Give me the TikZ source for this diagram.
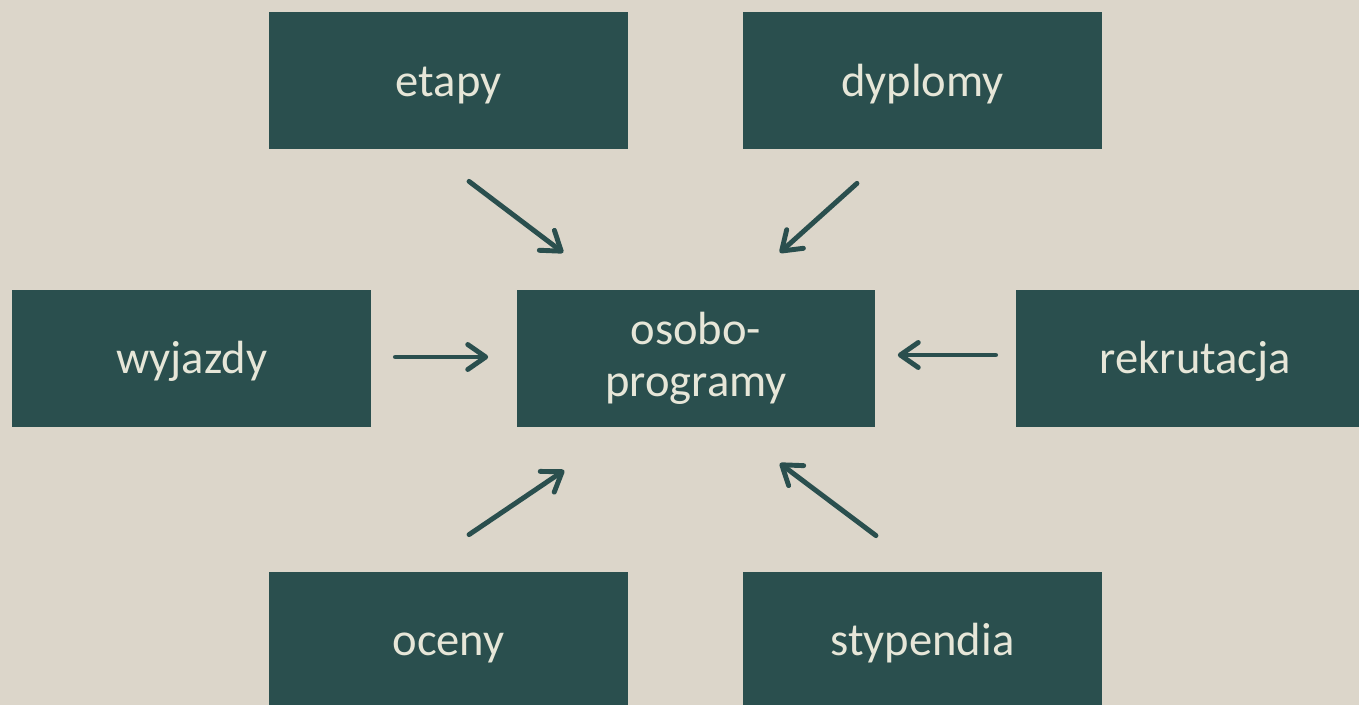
\documentclass[tikz,border=0pt]{standalone}
\usepackage{fontspec}
\setmainfont{Carlito}
\usepackage{xcolor}
\usetikzlibrary{positioning}
\usetikzlibrary{arrows.meta}
\definecolor{slidebg}{HTML}{DCD6CA}
\definecolor{boxteal}{HTML}{2A4F4E}
\definecolor{boxtext}{HTML}{E6E6D8}

\begin{document}
\begin{tikzpicture}[x=0.02cm,y=-0.02cm,on grid,
    box/.style={fill=boxteal,text=boxtext,minimum width=7.18cm,minimum height=2.74cm,
      inner sep=0pt,align=center,font=\fontsize{26.5}{29.5}\selectfont},
    oneline/.style={box,text height=0.62cm,text depth=0pt},
    feed/.style={draw=boxteal,line width=2.8pt,line cap=round,
      -{Straight Barb[length=0.36cm,width=0.5cm,line cap=round,line join=round]}}]
  \useasboundingbox (0,0) rectangle (1359,705);
  \clip (0,0) rectangle (1359,705);
  \fill[slidebg] (0,0) rectangle (1359,705);
  \node[box] (prog) at (696,358.5) {osobo-\\programy};
  \node[oneline] (etapy) [above left=5.56cm and 4.95cm of prog] {etapy};
  \node[oneline] (dypl) [above right=5.56cm and 4.53cm of prog] {dyplomy};
  \node[oneline] (wyj) [left=10.09cm of prog] {wyjazdy};
  \node[oneline] (rek) [right=9.99cm of prog] {rekrutacja};
  \node[oneline] (oceny) [below left=5.64cm and 4.95cm of prog] {oceny};
  \node[oneline] (styp) [below right=5.64cm and 4.53cm of prog] {stypendia};
  \draw[feed] ([shift={(20.5,32)}]etapy.south) -- ([shift={(47,-37)}]prog.north west);
  \draw[feed] ([shift={(-65.5,34)}]dypl.south) -- ([shift={(-96,-37)}]prog.north east);
  \draw[feed] ([shift={(24,-1.5)}]wyj.east) -- ([shift={(-28,-1.5)}]prog.west);
  \draw[feed] ([shift={(-20,-3.5)}]rek.west) -- ([shift={(22,-3.5)}]prog.east);
  \draw[feed] ([shift={(20.5,-37)}]oceny.north) -- ([shift={(48,43)}]prog.south west);
  \draw[feed] ([shift={(-46.5,-36)}]styp.north) -- ([shift={(-96,36)}]prog.south east);
\end{tikzpicture}
\end{document}
